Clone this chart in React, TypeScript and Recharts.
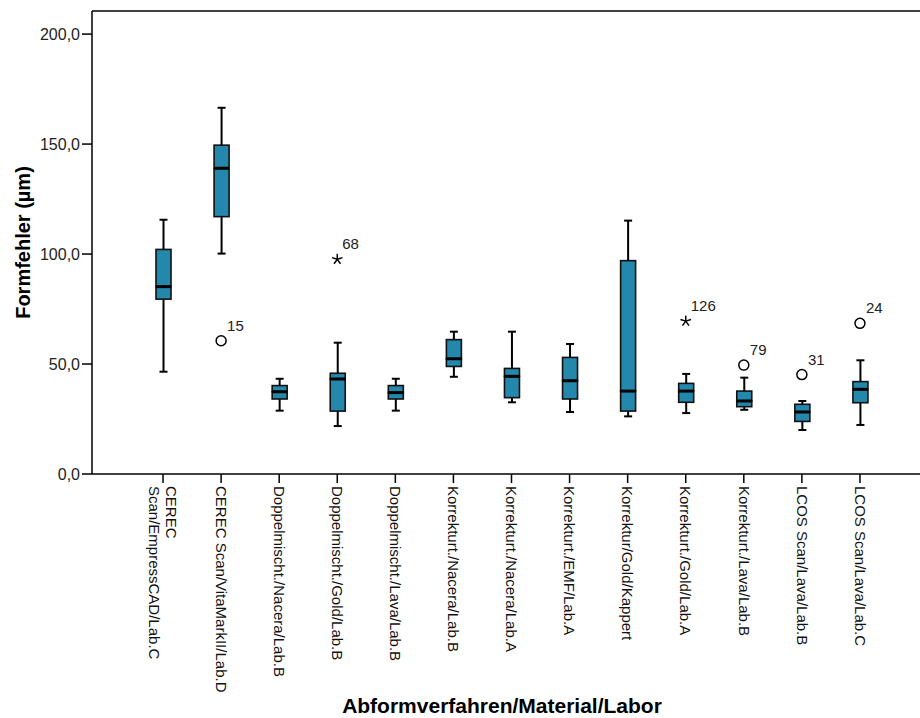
import React from 'react';
import { ComposedChart, Bar, Scatter, XAxis, YAxis, ReferenceLine } from 'recharts';

// Box plot: one box per impression technique / material / lab
const categories = [
  'CEREC\nScan/EmpressCAD/Lab.C',
  'CEREC Scan/VitaMarkII/Lab.D',
  'Doppelmischt./Nacera/Lab.B',
  'Doppelmischt./Gold/Lab.B',
  'Doppelmischt./Lava/Lab.B',
  'Korrekturt./Nacera/Lab.B',
  'Korrekturt./Nacera/Lab.A',
  'Korrekturt./EMF/Lab.A',
  'Korrektur/Gold/Kappert',
  'Korrekturt./Gold/Lab.A',
  'Korrekturt./Lava/Lab.B',
  'LCOS Scan/Lava/Lab.B',
  'LCOS Scan/Lava/Lab.C',
];
const whiskerLow = [46.5, 100.2, 28.8, 21.8, 28.8, 44.2, 32.6, 28.2, 26.2, 27.7, 29.2, 20.0, 22.3];
const quartile1 = [79.5, 117.0, 34.1, 28.6, 34.1, 48.9, 34.7, 34.1, 28.6, 32.6, 30.6, 23.9, 32.4];
const medians = [85.2, 139.0, 37.4, 43.2, 37.0, 52.4, 44.4, 42.4, 37.7, 37.7, 33.2, 28.2, 38.5];
const quartile3 = [102.1, 149.5, 40.2, 45.8, 40.2, 61.1, 48.0, 53.0, 97.0, 41.2, 37.7, 31.7, 42.0];
const whiskerHigh = [115.6, 166.5, 43.3, 59.7, 43.3, 64.7, 64.7, 59.1, 115.2, 45.5, 43.8, 33.2, 51.7];

// outliers (circles) and extremes (stars), with their case numbers
const outlierCategory = [1, 10, 11, 12];
const outlierValue = [60.6, 49.5, 45.2, 68.5];
const outlierCase = ['15', '79', '31', '24'];
const extremeCategory = [3, 9];
const extremeValue = [97.6, 69.5];
const extremeCase = ['68', '126'];

const yTicks = [0, 50, 100, 150, 200];
const yMax = 210.5;

const FONT = '"Liberation Sans", Arial, sans-serif';
const BOX_FILL = '#2388ab';

const data = categories.map((name, i) => {
  const o = outlierCategory.indexOf(i);
  const e = extremeCategory.indexOf(i);
  return {
    name,
    base: whiskerLow[i],
    lowWhisker: quartile1[i] - whiskerLow[i],
    lowBox: medians[i] - quartile1[i],
    highBox: quartile3[i] - medians[i],
    highWhisker: whiskerHigh[i] - quartile3[i],
    outlier: o >= 0 ? outlierValue[o] : null,
    outlierCase: o >= 0 ? outlierCase[o] : '',
    extreme: e >= 0 ? extremeValue[e] : null,
    extremeCase: e >= 0 ? extremeCase[e] : '',
  };
});

const Empty = () => <g />;

const LowWhisker = (p: any) => {
  const cx = p.x + p.width / 2;
  const bottom = p.y + p.height;
  return (
    <g>
      <line x1={cx} x2={cx} y1={p.y} y2={bottom} stroke="#000" strokeWidth={2} />
      <line x1={cx - 4} x2={cx + 4} y1={bottom} y2={bottom} stroke="#000" strokeWidth={2} />
    </g>
  );
};

const HighWhisker = (p: any) => {
  const cx = p.x + p.width / 2;
  return (
    <g>
      <line x1={cx} x2={cx} y1={p.y} y2={p.y + p.height} stroke="#000" strokeWidth={2} />
      <line x1={cx - 4} x2={cx + 4} y1={p.y} y2={p.y} stroke="#000" strokeWidth={2} />
    </g>
  );
};

const LowBox = (p: any) => (
  <rect x={p.x} y={p.y} width={p.width} height={p.height} fill={BOX_FILL} stroke="#111" strokeWidth={1.6} />
);

const HighBox = (p: any) => {
  const bottom = p.y + p.height;
  return (
    <g>
      <rect x={p.x} y={p.y} width={p.width} height={p.height} fill={BOX_FILL} stroke="#111" strokeWidth={1.6} />
      <line x1={p.x} x2={p.x + p.width} y1={bottom} y2={bottom} stroke="#000" strokeWidth={3} />
    </g>
  );
};

const OutlierShape = (p: any) => {
  if (p.payload == null || p.payload.outlier == null) return <g />;
  return (
    <g>
      <circle cx={p.cx} cy={p.cy} r={5} fill="#fff" stroke="#000" strokeWidth={1.5} />
      <text x={p.cx + 6} y={p.cy - 10} fontSize={15} fontFamily={FONT} fill="#222">
        {p.payload.outlierCase}
      </text>
    </g>
  );
};

const ExtremeShape = (p: any) => {
  if (p.payload == null || p.payload.extreme == null) return <g />;
  const r = 5.5;
  const spokes = [-90, -18, 54, 126, 198].map((deg) => {
    const a = (deg * Math.PI) / 180;
    return { x: p.cx + r * Math.cos(a), y: p.cy + r * Math.sin(a) };
  });
  return (
    <g>
      {spokes.map((s, i) => (
        <line key={i} x1={p.cx} y1={p.cy} x2={s.x} y2={s.y} stroke="#000" strokeWidth={1.5} />
      ))}
      <text x={p.cx + 5} y={p.cy - 10} fontSize={15} fontFamily={FONT} fill="#222">
        {p.payload.extremeCase}
      </text>
    </g>
  );
};

const CategoryTick = (props: any) => {
  const { x, y, payload } = props;
  const lines = String(payload.value).split('\n');
  const lh = 17;
  return (
    <g transform={`translate(${x},${y})`}>
      <text transform="rotate(90)" textAnchor="start" fontSize={15} fontFamily={FONT} fill="#111">
        {lines.map((l, i) => (
          <tspan key={i} x={0} y={(i - (lines.length - 1) / 2) * lh} dy="0.35em">
            {l}
          </tspan>
        ))}
      </text>
    </g>
  );
};

export default function App() {
  return (
    <div
      style={{
        position: 'fixed',
        left: 0,
        top: 0,
        width: 920,
        height: 718,
        overflow: 'hidden',
        background: '#fff',
        fontFamily: FONT,
      }}
    >
      <ComposedChart width={960} height={718} data={data} margin={{ top: 11, right: 10, bottom: 0, left: 0 }}>
        <XAxis
          dataKey="name"
          type="category"
          interval={0}
          height={244}
          padding={{ left: 42, right: 61 }}
          tickSize={9}
          tickMargin={3}
          tick={<CategoryTick />}
          axisLine={{ stroke: '#000', strokeWidth: 1.5 }}
          tickLine={{ stroke: '#000', strokeWidth: 1.5 }}
          label={{
            value: 'Abformverfahren/Material/Labor',
            position: 'insideBottom',
            offset: 5,
            dx: -19,
            style: { fontSize: 21, fontWeight: 'bold', fill: '#000', fontFamily: FONT },
          }}
        />
        <YAxis
          type="number"
          domain={[0, yMax]}
          ticks={yTicks}
          width={92}
          tickSize={10}
          tickMargin={2}
          tickFormatter={(v: number) => v.toFixed(1).replace('.', ',')}
          tick={{ fontSize: 16, fill: '#222', fontFamily: FONT }}
          axisLine={{ stroke: '#000', strokeWidth: 1.5 }}
          tickLine={{ stroke: '#000', strokeWidth: 1.5 }}
          label={{
            value: 'Formfehler (µm)',
            angle: -90,
            position: 'insideLeft',
            offset: 23,
            style: { textAnchor: 'middle', fontSize: 20, fontWeight: 'bold', fill: '#000', fontFamily: FONT },
          }}
        />
        <ReferenceLine y={yMax} stroke="#000" strokeWidth={1.5} />
        <Bar dataKey="base" stackId="box" barSize={15} shape={Empty} isAnimationActive={false} />
        <Bar dataKey="lowWhisker" stackId="box" barSize={15} shape={LowWhisker} isAnimationActive={false} />
        <Bar dataKey="lowBox" stackId="box" barSize={15} shape={LowBox} isAnimationActive={false} />
        <Bar dataKey="highBox" stackId="box" barSize={15} shape={HighBox} isAnimationActive={false} />
        <Bar dataKey="highWhisker" stackId="box" barSize={15} shape={HighWhisker} isAnimationActive={false} />
        <Scatter dataKey="outlier" shape={OutlierShape} isAnimationActive={false} />
        <Scatter dataKey="extreme" shape={ExtremeShape} isAnimationActive={false} />
      </ComposedChart>
    </div>
  );
}
